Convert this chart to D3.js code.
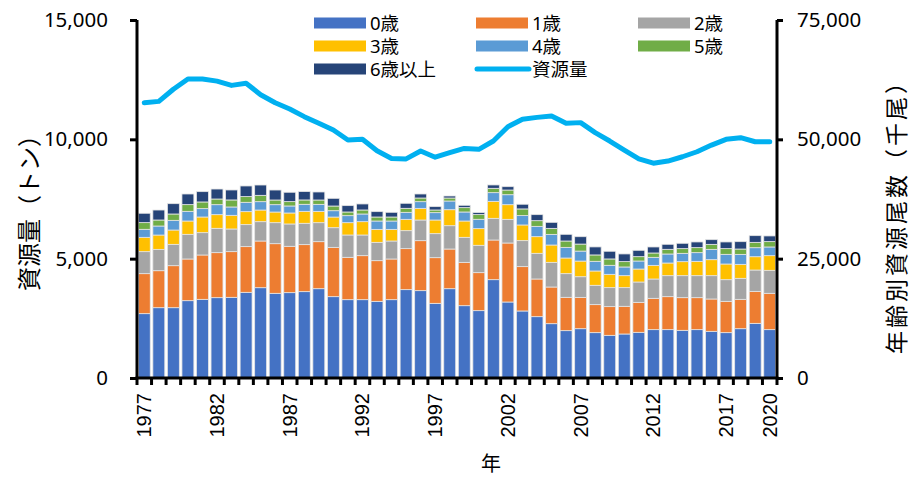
<!DOCTYPE html>
<html><head><meta charset="utf-8">
<script src="https://cdn.jsdelivr.net/npm/d3@7"></script>
<style>
body{margin:0;background:#fff;}
text{font-family:"Noto Sans","Noto Sans CJK JP",sans-serif;fill:#000;}
</style></head>
<body><svg id="c" width="911" height="479"></svg>
<script>
const years = d3.range(1977, 2021);
const seriesNames = ["0歳","1歳","2歳","3歳","4歳","5歳","6歳以上"];
const colors = ["#4472c4","#ed7d31","#a5a5a5","#ffc000","#5b9bd5","#70ad47","#264478"];
// 年齢別資源尾数（千尾）
const age0 = [13480,14730,14730,16200,16480,16830,16900,17950,18920,17740,17880,18090,18710,17040,16410,16410,16060,16410,18510,18300,15640,18710,15150,14110,20600,15920,14040,12850,11380,9920,10330,9500,8940,9220,9570,10130,10130,9990,10130,9780,9500,10330,11450,10130];
const age1 = [8380,7750,8800,8730,9290,9430,9570,9570,9780,10400,9710,9850,9850,10330,8870,9220,8520,8520,8590,10470,9570,8310,9080,7960,8310,12360,9290,7890,7680,6980,6560,5870,6010,5800,6280,6560,6910,6840,6700,6770,6560,6150,6700,7610];
const age2 = [4610,4470,4470,5170,4680,5100,4750,4610,4050,4400,4680,4470,3980,4120,4680,4330,3840,3770,3770,4330,5030,4890,5240,5730,4540,4960,5450,5380,5170,4960,4330,4050,3980,3910,4260,4050,4400,4610,4610,4890,4540,4400,4470,4820];
const age3 = [3000,3000,3000,2790,3280,2860,2860,2720,2440,2230,2300,2510,2370,2230,2580,2790,2720,2440,2370,2440,2860,3350,3420,3490,3560,3070,3280,3490,3630,3280,3280,3000,2790,2510,2720,2860,2650,2930,3000,3350,3280,2930,2790,3070];
const age4 = [1680,1890,2030,2030,1750,2090,1750,1960,1750,1540,1470,1470,1470,1330,1470,1610,1750,1750,1470,1400,1540,1820,1890,1960,1820,2090,1960,2160,2230,2230,2090,2030,1890,1820,1680,1680,1890,1750,1820,2160,2030,2090,1890,1820];
const age5 = [1400,1260,1330,1400,1400,1190,1470,1190,1330,980,910,910,910,980,770,840,840,840,840,770,560,630,910,980,910,980,1400,1190,1260,1330,1470,1330,1330,1120,910,910,980,980,1050,1050,1190,1120,1120,1120];
const age6 = [1960,2090,2160,2230,2160,2090,2090,2230,2160,2090,1960,1750,1680,1610,1330,1260,1120,980,1050,840,700,420,490,420,700,700,980,1260,1260,1400,1540,1680,1610,1610,1330,1260,1050,1120,1190,980,1400,1540,1400,1190];
// 資源量（トン）
const biomass = [11535,11590,12100,12530,12530,12440,12260,12350,11870,11535,11270,10950,10670,10390,9970,10000,9520,9200,9180,9510,9250,9440,9620,9580,9930,10530,10840,10920,10980,10670,10700,10280,9930,9550,9180,9000,9090,9270,9480,9760,10000,10070,9900,9900];
const leftTicks = [0,5000,10000,15000];
const rightTicks = [0,25000,50000,75000];
const yearLabels = [1977,1982,1987,1992,1997,2002,2007,2012,2017,2020];

const ages = [age0,age1,age2,age3,age4,age5,age6];
const rows = years.map((y,i)=>{const o={year:y}; seriesNames.forEach((n,k)=>o[n]=ages[k][i]); return o;});

const svg = d3.select("#c");
const L=137, R=777, T=20, B=378;
const x = d3.scaleBand().domain(years).range([L,R]).paddingInner(0.18).paddingOuter(0.09);
const yL = d3.scaleLinear().domain([0,15000]).range([B,T]);
const yR = d3.scaleLinear().domain([0,75000]).range([B,T]);
const fmt = d3.format(",");

const stack = d3.stack().keys(seriesNames)(rows);
svg.append("g").selectAll("g").data(stack).join("g")
  .attr("fill",(d,i)=>colors[i])
  .selectAll("rect").data(d=>d).join("rect")
  .attr("x",d=>x(d.data.year)).attr("width",x.bandwidth())
  .attr("y",d=>yR(d[1])).attr("height",d=>yR(d[0])-yR(d[1]))
  .attr("stroke","#e4e4e4").attr("stroke-width",0.8);

svg.append("path").datum(biomass)
  .attr("fill","none").attr("stroke","#00b0f0").attr("stroke-width",5)
  .attr("stroke-linejoin","round").attr("stroke-linecap","round")
  .attr("d",d3.line().x((d,i)=>x(years[i])+x.bandwidth()/2).y(d=>yL(d)));

// axes
const axL = svg.append("g").attr("transform",`translate(${L},0)`)
  .call(d3.axisLeft(yL).tickValues(leftTicks).tickFormat(fmt).tickSize(7).tickPadding(22));
const axR = svg.append("g").attr("transform",`translate(${R},0)`)
  .call(d3.axisRight(yR).tickValues(rightTicks).tickFormat(fmt).tickSize(6).tickPadding(14));
[axL,axR].forEach(a=>{
  a.select(".domain").attr("stroke","#000").attr("stroke-width",3).attr("d", `M0,${T}V${B}`);
  a.selectAll(".tick line").attr("stroke","#000").attr("stroke-width",3);
  a.selectAll(".tick text").attr("font-size",20.5).attr("fill","#111").attr("font-family",'"Noto Sans","Noto Sans CJK JP",sans-serif');
});
// bottom axis
const gB = svg.append("g");
gB.append("line").attr("x1",L-1.5).attr("x2",R+1.5).attr("y1",B).attr("y2",B).attr("stroke","#000").attr("stroke-width",3);
gB.selectAll("line.t").data(d3.range(years.length+1)).join("line").attr("class","t")
  .attr("x1",i=>L+i*(R-L)/years.length).attr("x2",i=>L+i*(R-L)/years.length)
  .attr("y1",B).attr("y2",B+7).attr("stroke","#000").attr("stroke-width",3);
gB.selectAll("text").data(yearLabels).join("text")
  .attr("transform",d=>`translate(${x(d)+x.bandwidth()/2+7},393) rotate(-90)`)
  .attr("text-anchor","end").attr("font-size",20)
  .style("font-family",'"Liberation Sans",Arial,sans-serif')
  .text(d=>d);

svg.append("text").attr("x",491).attr("y",471).attr("text-anchor","middle").attr("font-size",20).attr("fill","#222").text("年");
svg.append("text").attr("transform","translate(38,207) rotate(-90)").attr("text-anchor","middle").attr("font-size",24).attr("fill","#222").text("資源量（トン）");
svg.append("text").attr("transform","translate(905,211) rotate(-90)").attr("text-anchor","middle").attr("font-size",23).attr("letter-spacing",3).attr("fill","#222").text("年齢別資源尾数（千尾）");

// legend
const legItems = seriesNames.map((n,i)=>({name:n,color:colors[i],type:"rect"})).concat([{name:"資源量",color:"#00b0f0",type:"line"}]);
const colX=[314,476,638], rowY=[23,46,69];
const lg = svg.append("g");
legItems.forEach((it,i)=>{
  const cx=colX[i%3], cy=rowY[Math.floor(i/3)];
  if(it.type==="rect") lg.append("rect").attr("x",cx).attr("y",cy-5.5).attr("width",52).attr("height",11).attr("fill",it.color);
  else lg.append("line").attr("x1",cx+1).attr("x2",cx+53).attr("y1",cy).attr("y2",cy).attr("stroke",it.color).attr("stroke-width",5).attr("stroke-linecap","round");
  lg.append("text").attr("x",cx+56).attr("y",cy+6.5).attr("font-size",18.5).attr("fill","#222").text(it.name);
});
</script></body></html>
